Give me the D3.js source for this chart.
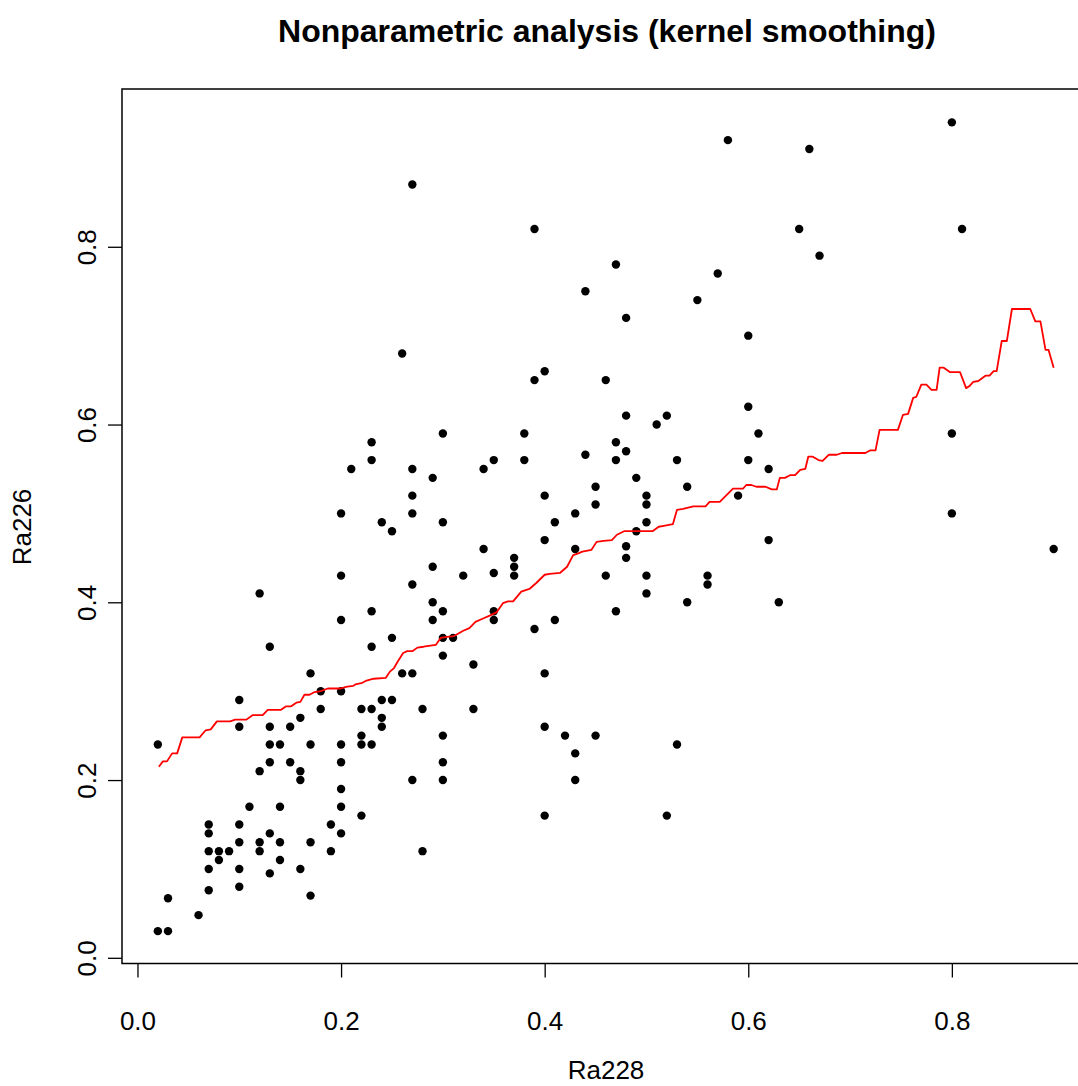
<!DOCTYPE html>
<html>
<head>
<meta charset="utf-8">
<script src="https://cdnjs.cloudflare.com/ajax/libs/d3/7.8.5/d3.min.js"></script>
<style>
  body { margin: 0; background: #fff; }
  #chart svg { display: block; }
  .axis text { font-family: "Liberation Sans", Arial, sans-serif; font-size: 26px; fill: #000; }
  .axis line { stroke: #000; stroke-width: 1.3px; }
</style>
</head>
<body>
<div id="chart"></div>
<script>
// observations (Ra228, Ra226)
var ra228 = [0.80, 0.58, 0.66, 0.27, 0.39, 0.65, 0.81, 0.67, 0.47, 0.57,
  0.44, 0.55, 0.48, 0.60, 0.26, 0.40, 0.39, 0.46, 0.60, 0.48,
  0.52, 0.51, 0.30, 0.38, 0.61, 0.80, 0.23, 0.47, 0.48, 0.44,
  0.23, 0.35, 0.38, 0.47, 0.53, 0.60, 0.21, 0.27, 0.34, 0.62,
  0.29, 0.49, 0.45, 0.54, 0.27, 0.40, 0.50, 0.59, 0.45, 0.50,
  0.20, 0.27, 0.43, 0.80, 0.24, 0.30, 0.41, 0.50, 0.25, 0.49,
  0.40, 0.62, 0.34, 0.43, 0.48, 0.90, 0.37, 0.48, 0.29, 0.37,
  0.20, 0.32, 0.35, 0.37, 0.46, 0.50, 0.56, 0.27, 0.56, 0.12,
  0.50, 0.29, 0.54, 0.63, 0.23, 0.30, 0.35, 0.47, 0.20, 0.29,
  0.35, 0.41, 0.39, 0.25, 0.30, 0.31, 0.13, 0.23, 0.30, 0.33,
  0.17, 0.26, 0.27, 0.40, 0.18, 0.20, 0.10, 0.24, 0.25, 0.18,
  0.22, 0.23, 0.28, 0.33, 0.16, 0.24, 0.10, 0.13, 0.15, 0.24,
  0.40, 0.22, 0.30, 0.42, 0.45, 0.02, 0.13, 0.14, 0.17, 0.20,
  0.22, 0.23, 0.53, 0.43, 0.13, 0.15, 0.20, 0.30, 0.12, 0.16,
  0.16, 0.27, 0.30, 0.43, 0.20, 0.11, 0.14, 0.20, 0.22, 0.40,
  0.52, 0.07, 0.10, 0.19, 0.07, 0.13, 0.20, 0.10, 0.12, 0.14,
  0.17, 0.07, 0.08, 0.09, 0.12, 0.19, 0.28, 0.08, 0.14, 0.07,
  0.10, 0.16, 0.13, 0.10, 0.07, 0.17, 0.03, 0.06, 0.02, 0.03];

var ra226 = [0.94, 0.92, 0.91, 0.87, 0.82, 0.82, 0.82, 0.79, 0.78, 0.77,
  0.75, 0.74, 0.72, 0.70, 0.68, 0.66, 0.65, 0.65, 0.62, 0.61,
  0.61, 0.60, 0.59, 0.59, 0.59, 0.59, 0.58, 0.58, 0.57, 0.566,
  0.56, 0.56, 0.56, 0.56, 0.56, 0.56, 0.55, 0.55, 0.55, 0.55,
  0.54, 0.54, 0.53, 0.53, 0.52, 0.52, 0.52, 0.52, 0.51, 0.51,
  0.50, 0.50, 0.50, 0.50, 0.49, 0.49, 0.49, 0.49, 0.48, 0.48,
  0.47, 0.47, 0.46, 0.46, 0.463, 0.46, 0.45, 0.45, 0.44, 0.44,
  0.43, 0.43, 0.433, 0.43, 0.43, 0.43, 0.43, 0.42, 0.42, 0.41,
  0.41, 0.40, 0.40, 0.40, 0.39, 0.39, 0.39, 0.39, 0.38, 0.38,
  0.38, 0.38, 0.37, 0.36, 0.36, 0.36, 0.35, 0.35, 0.34, 0.33,
  0.32, 0.32, 0.32, 0.32, 0.30, 0.30, 0.29, 0.29, 0.29, 0.28,
  0.28, 0.28, 0.28, 0.28, 0.27, 0.27, 0.26, 0.26, 0.26, 0.26,
  0.26, 0.25, 0.25, 0.25, 0.25, 0.24, 0.24, 0.24, 0.24, 0.24,
  0.24, 0.24, 0.24, 0.23, 0.22, 0.22, 0.22, 0.22, 0.21, 0.21,
  0.20, 0.20, 0.20, 0.20, 0.19, 0.17, 0.17, 0.17, 0.16, 0.16,
  0.16, 0.15, 0.15, 0.15, 0.14, 0.14, 0.14, 0.13, 0.13, 0.13,
  0.13, 0.12, 0.12, 0.12, 0.12, 0.12, 0.12, 0.11, 0.11, 0.10,
  0.10, 0.10, 0.095, 0.08, 0.076, 0.07, 0.067, 0.048, 0.03, 0.03];

// kernel smoother (red line)
var smoothX = [0.021, 0.025, 0.029, 0.034, 0.039, 0.044, 0.061, 0.067, 0.072, 0.078,
  0.091, 0.096, 0.107, 0.113, 0.123, 0.128, 0.141, 0.146, 0.151, 0.156,
  0.160, 0.164, 0.169, 0.174, 0.180, 0.187, 0.199, 0.206, 0.212, 0.215,
  0.220, 0.225, 0.232, 0.244, 0.248, 0.252, 0.256, 0.261, 0.265, 0.270,
  0.275, 0.281, 0.286, 0.293, 0.298, 0.304, 0.311, 0.320, 0.326, 0.332,
  0.340, 0.346, 0.353, 0.359, 0.364, 0.369, 0.377, 0.385, 0.392, 0.400,
  0.405, 0.415, 0.422, 0.428, 0.433, 0.437, 0.446, 0.451, 0.458, 0.466,
  0.471, 0.478, 0.506, 0.512, 0.517, 0.526, 0.530, 0.536, 0.546, 0.558,
  0.562, 0.572, 0.585, 0.595, 0.598, 0.603, 0.608, 0.617, 0.623, 0.628,
  0.631, 0.636, 0.641, 0.646, 0.651, 0.656, 0.659, 0.663, 0.669, 0.673,
  0.679, 0.687, 0.692, 0.715, 0.720, 0.725, 0.729, 0.747, 0.752, 0.757,
  0.762, 0.765, 0.770, 0.775, 0.780, 0.785, 0.788, 0.792, 0.798, 0.808,
  0.814, 0.817, 0.821, 0.826, 0.833, 0.837, 0.841, 0.844, 0.849, 0.854,
  0.859, 0.877, 0.882, 0.887, 0.892, 0.895, 0.900];

var smoothY = [0.215, 0.221, 0.221, 0.230, 0.230, 0.248, 0.248, 0.256, 0.257, 0.266,
  0.266, 0.268, 0.268, 0.273, 0.273, 0.279, 0.279, 0.283, 0.283, 0.287,
  0.288, 0.296, 0.296, 0.299, 0.300, 0.303, 0.303, 0.305, 0.306, 0.308,
  0.309, 0.312, 0.314, 0.315, 0.322, 0.326, 0.334, 0.343, 0.345, 0.345,
  0.349, 0.350, 0.351, 0.352, 0.360, 0.361, 0.362, 0.368, 0.371, 0.378,
  0.382, 0.385, 0.389, 0.399, 0.401, 0.401, 0.412, 0.415, 0.422, 0.431,
  0.432, 0.433, 0.440, 0.453, 0.455, 0.457, 0.459, 0.468, 0.469, 0.470,
  0.476, 0.480, 0.480, 0.485, 0.486, 0.488, 0.504, 0.505, 0.508, 0.508,
  0.513, 0.513, 0.528, 0.528, 0.532, 0.532, 0.530, 0.530, 0.527, 0.527,
  0.540, 0.540, 0.543, 0.543, 0.549, 0.550, 0.564, 0.564, 0.560, 0.559,
  0.566, 0.566, 0.568, 0.568, 0.571, 0.571, 0.594, 0.594, 0.611, 0.612,
  0.630, 0.631, 0.645, 0.645, 0.639, 0.639, 0.664, 0.664, 0.659, 0.659,
  0.641, 0.643, 0.648, 0.649, 0.655, 0.655, 0.660, 0.660, 0.694, 0.694,
  0.730, 0.730, 0.716, 0.716, 0.684, 0.684, 0.664];

var xTicks = [0, 0.2, 0.4, 0.6, 0.8];
var yTicks = [0, 0.2, 0.4, 0.6, 0.8];

var FONT = '"Liberation Sans", Arial, sans-serif';

ScatterVis = function(_parentElement) {
    this.parentElement = _parentElement;
    this.initVis();
}

ScatterVis.prototype.initVis = function() {
    var vis = this;

    vis.pageWidth = 1078;
    vis.pageHeight = 1086;
    // plot region, the right edge runs past the page like in the original
    vis.left = 122;
    vis.right = 1089.5;
    vis.top = 90;
    vis.bottom = 963.5;

    vis.svg = d3.select("#" + vis.parentElement).append("svg")
        .attr("width", vis.pageWidth)
        .attr("height", vis.pageHeight);

    // R style range: data extent padded by 4%
    var xr = d3.extent(ra228), yr = d3.extent(ra226);
    var xp = (xr[1] - xr[0]) * 0.04, yp = (yr[1] - yr[0]) * 0.04;

    vis.x = d3.scaleLinear()
        .domain([xr[0] - xp, xr[1] + xp])
        .range([vis.left, vis.right]);

    vis.y = d3.scaleLinear()
        .domain([yr[0] - yp, yr[1] + yp])
        .range([vis.bottom, vis.top]);

    // axes
    vis.xAxis = d3.axisBottom(vis.x)
        .tickValues(xTicks)
        .tickFormat(d3.format(".1f"))
        .tickSize(14)
        .tickPadding(12);

    vis.yAxis = d3.axisLeft(vis.y)
        .tickValues(yTicks)
        .tickFormat(d3.format(".1f"))
        .tickSize(14);

    vis.svg.append("g")
        .attr("class", "x-axis axis")
        .attr("transform", "translate(0," + vis.bottom + ")")
        .call(vis.xAxis)
        .call(function(g) { g.select(".domain").remove(); })
        .selectAll("text")
        .attr("y", 0)
        .attr("dy", 0)
        .attr("transform", "translate(0,66)");

    vis.svg.append("g")
        .attr("class", "y-axis axis")
        .attr("transform", "translate(" + vis.left + ",0)")
        .call(vis.yAxis)
        .call(function(g) { g.select(".domain").remove(); })
        .selectAll("text")
        .attr("x", 0)
        .attr("dy", 0)
        .attr("text-anchor", "middle")
        .attr("transform", "translate(-26,0) rotate(-90)");

    // box
    vis.svg.append("rect")
        .attr("x", vis.left)
        .attr("y", vis.top - 1)
        .attr("width", vis.right - vis.left)
        .attr("height", vis.bottom - vis.top + 1)
        .attr("fill", "none")
        .attr("stroke", "#000")
        .attr("stroke-width", 1.5);

    // points
    vis.points = d3.zip(ra228, ra226);
    vis.svg.append("g").selectAll("circle")
        .data(vis.points)
        .enter().append("circle")
        .attr("cx", function(d) { return vis.x(d[0]); })
        .attr("cy", function(d) { return vis.y(d[1]); })
        .attr("r", 4.2)
        .attr("fill", "#000");

    // kernel smoothing line
    vis.line = d3.line()
        .x(function(d) { return vis.x(d[0]); })
        .y(function(d) { return vis.y(d[1]); });

    vis.svg.append("path")
        .datum(d3.zip(smoothX, smoothY))
        .attr("d", vis.line)
        .attr("fill", "none")
        .attr("stroke", "#ff0000")
        .attr("stroke-width", 1.8)
        .attr("stroke-linejoin", "round");

    // title
    vis.svg.append("text")
        .attr("x", 607)
        .attr("y", 42)
        .style("text-anchor", "middle")
        .style("font-family", FONT)
        .style("font-weight", "bold")
        .style("font-size", "32px")
        .text("Nonparametric analysis (kernel smoothing)");

    // axis labels
    vis.svg.append("text")
        .attr("x", 606)
        .attr("y", 1079)
        .style("text-anchor", "middle")
        .style("font-family", FONT)
        .style("font-size", "26px")
        .text("Ra228");

    vis.svg.append("text")
        .attr("transform", "translate(31,527) rotate(-90)")
        .style("text-anchor", "middle")
        .style("font-family", FONT)
        .style("font-size", "26px")
        .text("Ra226");
}

new ScatterVis("chart");
</script>
</body>
</html>
